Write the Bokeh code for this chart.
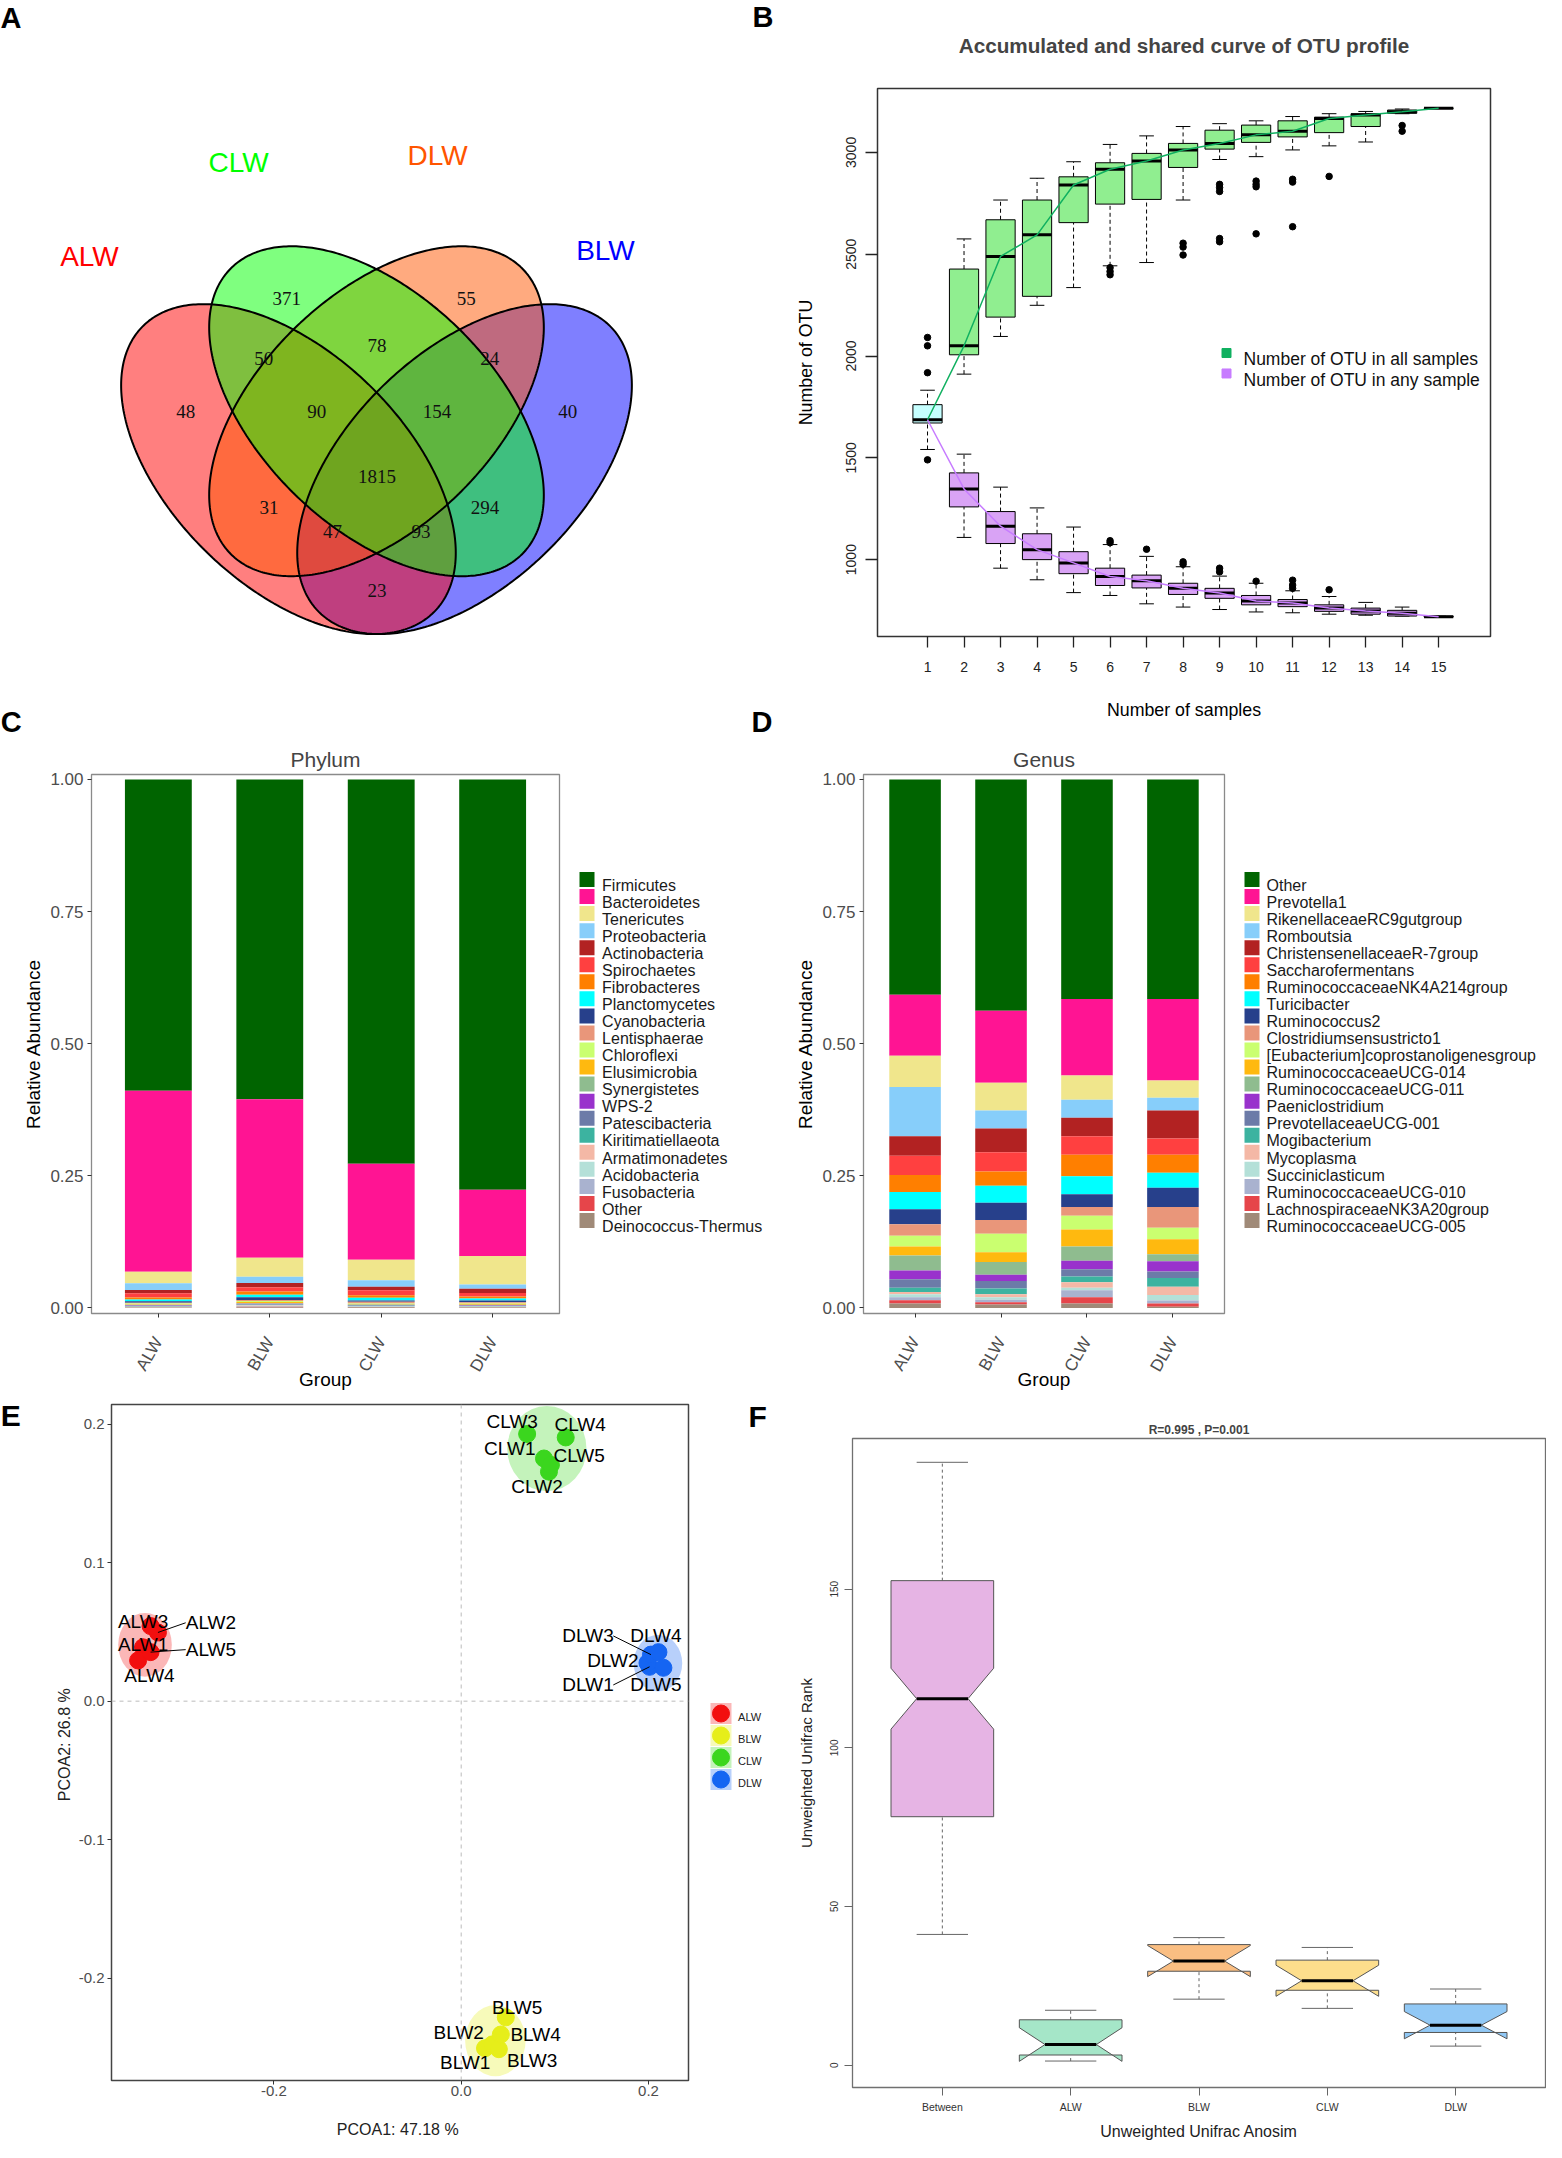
import math
import numpy as np
from bokeh.plotting import figure
from bokeh.layouts import row, column
from bokeh.models import Range1d, FixedTicker, Span, PrintfTickFormatter
from bokeh.core.properties import value
from bokeh.embed import file_html
from bokeh.resources import INLINE

SANS = "Liberation Sans"
SERIF = "Liberation Serif"

# =========================== DATA ===========================
# --- A: Venn diagram of shared OTUs ---
venn_sets = ["ALW", "BLW", "CLW", "DLW"]
venn_regions = ["C", "D", "AC", "CD", "DB", "A", "ACD", "CDB", "B", "ACDB",
                "AD", "CB", "ADB", "ACB", "AB"]
venn_counts = [371, 55, 50, 78, 24, 48, 90, 154, 40, 1815, 31, 294, 47, 93, 23]

# --- B: accumulated / shared OTU curves (boxplot stats) ---
n_samples = list(range(1, 16))
first_stats = [1541, 1671, 1687, 1761, 1832]          # lo, q1, med, q3, hi at 1 sample
first_out = [2091, 2050, 1918, 1490]
all_lo = [1911, 2096, 2249, 2336, 2443, 2459, 2766, 2965, 2979, 3012, 3032, 3051, 3190, 3216]
all_q1 = [2006, 2191, 2293, 2655, 2746, 2769, 2926, 3016, 3049, 3076, 3097, 3127, 3192, 3216]
all_med = [2050, 2489, 2595, 2840, 2917, 2958, 3012, 3044, 3086, 3104, 3166, 3183, 3199, 3217]
all_q3 = [2427, 2669, 2766, 2880, 2949, 2995, 3044, 3109, 3134, 3155, 3173, 3190, 3208, 3218]
all_hi = [2575, 2766, 2873, 2954, 3039, 3081, 3127, 3141, 3155, 3176, 3190, 3201, 3213, 3218]
all_out_x = [6, 6, 6, 8, 8, 8, 9, 9, 9, 9, 9, 10, 10, 10, 10, 11, 11, 11, 12, 14, 14]
all_out_y = [2434, 2415, 2399, 2554, 2535, 2496, 2843, 2827, 2808, 2577, 2561,
             2859, 2843, 2831, 2600, 2868, 2854, 2635, 2882, 3132, 3104]
any_lo = [1109, 958, 901, 838, 824, 783, 767, 755, 743, 739, 732, 727, 723, 718]
any_q1 = [1259, 1079, 1000, 931, 873, 861, 829, 810, 778, 769, 746, 732, 723, 718]
any_med = [1347, 1164, 1049, 984, 917, 896, 859, 836, 797, 787, 762, 748, 737, 720]
any_q3 = [1426, 1236, 1127, 1039, 958, 924, 884, 859, 824, 804, 778, 762, 751, 722]
any_hi = [1518, 1356, 1254, 1160, 1074, 1016, 965, 919, 884, 847, 819, 790, 767, 722]
any_out_x = [6, 6, 7, 8, 8, 9, 9, 10, 11, 11, 11, 12]
any_out_y = [1093, 1083, 1051, 989, 977, 958, 940, 894, 899, 875, 859, 852]
curve_names = ["Number of OTU in all samples", "Number of OTU in any sample"]

# --- C / D: relative abundance ---
groups = ["ALW", "BLW", "CLW", "DLW"]
phylum_names = ["Firmicutes", "Bacteroidetes", "Tenericutes", "Proteobacteria",
                "Actinobacteria", "Spirochaetes", "Fibrobacteres", "Planctomycetes",
                "Cyanobacteria", "Lentisphaerae", "Chloroflexi", "Elusimicrobia",
                "Synergistetes", "WPS-2", "Patescibacteria", "Kiritimatiellaeota",
                "Armatimonadetes", "Acidobacteria", "Fusobacteria", "Other",
                "Deinococcus-Thermus"]
phylum_ALW = [0.589, 0.3425, 0.0217, 0.013, 0.006, 0.008, 0.004, 0.003, 0.003, 0.0015,
              0.0015, 0.001, 0.001, 0.0008, 0.0008, 0.0008, 0.0006, 0.0005, 0.0005, 0.0005, 0.0003]
phylum_BLW = [0.605, 0.300, 0.036, 0.012, 0.008, 0.008, 0.006, 0.005, 0.005, 0.002,
              0.002, 0.002, 0.001, 0.001, 0.001, 0.001, 0.001, 0.001, 0.001, 0.001, 0.001]
phylum_CLW = [0.7274, 0.1816, 0.0386, 0.0124, 0.0065, 0.0095, 0.005, 0.005, 0.0025, 0.003,
              0.001, 0.001, 0.001, 0.0005, 0.001, 0.001, 0.0005, 0.0005, 0.0005, 0.0005, 0.001]
phylum_DLW = [0.7766, 0.125, 0.054, 0.0081, 0.008, 0.0065, 0.004, 0.004, 0.003, 0.002,
              0.001, 0.002, 0.001, 0.0005, 0.0005, 0.001, 0.0005, 0.0005, 0.0005, 0.0005, 0.0008]

genus_names = ["Other", "Prevotella1", "RikenellaceaeRC9gutgroup", "Romboutsia",
               "ChristensenellaceaeR-7group", "Saccharofermentans",
               "RuminococcaceaeNK4A214group", "Turicibacter", "Ruminococcus2",
               "Clostridiumsensustricto1", "[Eubacterium]coprostanoligenesgroup",
               "RuminococcaceaeUCG-014", "RuminococcaceaeUCG-011", "Paeniclostridium",
               "PrevotellaceaeUCG-001", "Mogibacterium", "Mycoplasma", "Succiniclasticum",
               "RuminococcaceaeUCG-010", "LachnospiraceaeNK3A20group", "RuminococcaceaeUCG-005"]
genus_ALW = [0.4075, 0.1152, 0.0593, 0.0933, 0.0367, 0.0364, 0.0324, 0.0325, 0.0284, 0.0219,
             0.0203, 0.0171, 0.0284, 0.0162, 0.0163, 0.0081, 0.0040, 0.0057, 0.0057, 0.0065, 0.0081]
genus_BLW = [0.4375, 0.1364, 0.0527, 0.0341, 0.0447, 0.0365, 0.0268, 0.0324, 0.0325, 0.0260,
             0.0349, 0.0186, 0.0244, 0.0114, 0.0146, 0.0105, 0.0057, 0.0049, 0.0048, 0.0041, 0.0065]
genus_CLW = [0.4156, 0.1445, 0.0462, 0.0341, 0.0349, 0.0349, 0.0406, 0.0341, 0.0244, 0.0162,
             0.0260, 0.0324, 0.0268, 0.0162, 0.0138, 0.0106, 0.0106, 0.0048, 0.0130, 0.0122, 0.0081]
genus_DLW = [0.4156, 0.1542, 0.0325, 0.0243, 0.0528, 0.0308, 0.0341, 0.0284, 0.0366, 0.0389,
             0.0219, 0.0284, 0.0130, 0.0195, 0.0122, 0.0170, 0.0154, 0.0106, 0.0057, 0.0057, 0.0024]

taxa_palette = ["#006400", "#FF1493", "#F0E68C", "#87CEFA", "#B22222", "#FF4040", "#FF7F00",
                "#00FFFF", "#27408B", "#E9967A", "#CAFF70", "#FFB90F", "#8FBC8F", "#9932CC",
                "#6C7BA8", "#3CB3A0", "#F4B8A6", "#B4E0D8", "#A9B2CF", "#E6454A", "#A08A78"]

# --- E: PCoA ---
pcoa_samples = ["ALW1", "ALW2", "ALW3", "ALW4", "ALW5",
                "BLW1", "BLW2", "BLW3", "BLW4", "BLW5",
                "CLW1", "CLW2", "CLW3", "CLW4", "CLW5",
                "DLW1", "DLW2", "DLW3", "DLW4", "DLW5"]
pcoa_pc1 = [-0.3397, -0.3238, -0.3317, -0.3450, -0.3317,
            0.0254, 0.0333, 0.0402, 0.0423, 0.0476,
            0.0884, 0.0937, 0.0704, 0.1116, 0.0958,
            0.2011, 0.1989, 0.2026, 0.2106, 0.2159]
pcoa_pc2 = [0.0389, 0.0496, 0.0542, 0.0294, 0.0354,
            -0.2506, -0.2478, -0.2513, -0.2407, -0.2283,
            0.1752, 0.1657, 0.1929, 0.1904, 0.1706,
            0.0248, 0.0276, 0.0336, 0.0354, 0.0241]
ell_cx = [-0.3376, 0.0365, 0.0915, 0.2101]
ell_cy = [0.0407, -0.2451, 0.1823, 0.0274]
ell_rx = [0.0286, 0.0323, 0.0423, 0.0259]
ell_ry = [0.0230, 0.0257, 0.0308, 0.0204]
group_colors = ["#F20F0F", "#E6EE1A", "#3BD61E", "#1565F2"]

# --- F: ANOSIM ---
anosim_groups = ["Between", "ALW", "BLW", "CLW", "DLW"]
anosim_lo = [41.2, 1.3, 20.8, 17.9, 6.0]
anosim_q1 = [78.3, 3.2, 29.6, 23.6, 10.3]
anosim_med = [115.5, 6.5, 32.8, 26.6, 12.6]
anosim_q3 = [152.7, 14.3, 38.0, 33.1, 19.3]
anosim_hi = [190.0, 17.3, 40.2, 37.1, 24.0]
anosim_notch = [9.6, 5.3, 4.9, 4.9, 4.3]
anosim_colors = ["#E6B4E4", "#A5E6C8", "#FABE82", "#FDDE8C", "#91C8F5"]

# ========================= LAYOUT CONSTANTS =========================
VENN_FILL = {"ALW": "#FF0000", "BLW": "#0000FF", "CLW": "#00FF00", "DLW": "#FF5500"}
VENN_ELL = {"ALW": (0.35, 0.47, -45), "CLW": (0.50, 0.57, -45),
            "DLW": (0.50, 0.57, 45), "BLW": (0.65, 0.47, 45)}
VENN_A, VENN_B = 0.35, 0.20
VENN_LABEL_POS = {"C": (0.347, 0.776), "D": (0.653, 0.776), "AC": (0.308, 0.672),
                  "CD": (0.501, 0.694), "DB": (0.693, 0.672), "A": (0.175, 0.581),
                  "ACD": (0.398, 0.581), "CDB": (0.603, 0.581), "B": (0.826, 0.581),
                  "ACDB": (0.501, 0.468), "AD": (0.317, 0.415), "CB": (0.685, 0.415),
                  "ADB": (0.425, 0.374), "ACB": (0.576, 0.374), "AB": (0.501, 0.272)}
VENN_CAT_POS = {"ALW": (0.011, 0.855), "CLW": (0.265, 1.017),
                "DLW": (0.604, 1.030), "BLW": (0.890, 0.865)}
PCOA_LABEL_OFF = {"ALW1": (0.0, 0.002), "ALW2": (0.0566, 0.007), "ALW3": (-0.008, 0.0035),
                  "ALW4": (0.0122, -0.0106), "ALW5": (0.0645, 0.0018),
                  "BLW1": (-0.0212, -0.0106), "BLW2": (-0.0359, 0.0089), "BLW3": (0.0355, -0.0078),
                  "BLW4": (0.0371, 0.0), "BLW5": (0.0122, 0.0071),
                  "CLW1": (-0.0365, 0.0071), "CLW2": (-0.0127, -0.011), "CLW3": (-0.0159, 0.0089),
                  "CLW4": (0.0154, 0.0096), "CLW5": (0.0301, 0.0071),
                  "DLW1": (-0.0657, -0.0131), "DLW2": (-0.037, 0.0014), "DLW3": (-0.0672, 0.0135),
                  "DLW4": (-0.0027, 0.0117), "DLW5": (-0.008, -0.0124)}
PCOA_LEADERS = ["ALW2", "ALW5", "DLW3", "DLW1"]
LEG_FIRST_Y, LEG_PITCH = 887.0, 17.05
ROW1_TOP, ROW2_TOP, ROW3_TOP, PAGE_BOTTOM = 8, 750, 1400, 2150


def no_align(p):
    try:
        p.frame_align = False
    except Exception:
        pass


def new_fig(w, h, origin, frame, xr, yr):
    ox, oy = origin
    fl, ft, fr, fb = frame
    p = figure(width=w, height=h, x_range=Range1d(*xr), y_range=Range1d(*yr),
               min_border_left=fl - ox, min_border_right=ox + w - fr,
               min_border_top=ft - oy, min_border_bottom=oy + h - fb,
               output_backend="svg", toolbar_location=None, tools="")
    no_align(p)
    for g in p.grid:
        g.visible = False
    p.background_fill_color = "white"
    p.border_fill_color = "white"
    return p


def canvas_fig(x0, y0, w, h):
    """A plain drawing area whose data units are page pixels (y downward)."""
    p = figure(width=w, height=h, x_range=Range1d(x0, x0 + w), y_range=Range1d(y0 + h, y0),
               x_axis_type=None, y_axis_type=None, min_border=0, output_backend="svg",
               toolbar_location=None, tools="")
    no_align(p)
    p.outline_line_color = None
    p.background_fill_color = "white"
    p.border_fill_color = "white"
    return p


def style_axis(ax, ticks, tick_out, lab_size, lab_color, standoff, title, title_size,
               title_standoff, tick_color="#333333", tick_width=1.0, title_color="#000000"):
    ax.ticker = FixedTicker(ticks=ticks)
    ax.major_tick_in = 0
    ax.major_tick_out = tick_out
    ax.major_tick_line_color = tick_color
    ax.major_tick_line_width = tick_width
    ax.minor_tick_line_color = None
    ax.axis_line_color = None
    ax.major_label_text_font = SANS
    ax.major_label_text_font_size = f"{lab_size}px"
    ax.major_label_text_color = lab_color
    ax.major_label_standoff = standoff
    ax.axis_label = title
    ax.axis_label_text_font = SANS
    ax.axis_label_text_font_size = f"{title_size}px"
    ax.axis_label_text_font_style = "normal"
    ax.axis_label_text_color = title_color
    ax.axis_label_standoff = title_standoff


def set_title(p, text, size, style, standoff):
    p.title.text = text
    p.title.align = "center"
    p.title.text_font = SANS
    p.title.text_font_size = f"{size}px"
    p.title.text_font_style = style
    p.title.standoff = standoff


# =========================== ROW 1 : A + B ===========================
ROW1_H = ROW2_TOP - ROW1_TOP
A_W = 787
VX0, VW, VY0, VH = 90.5, 587.0, 748.6, 578.7          # npc -> page pixels


def npx(px):
    return (px - VX0) / VW


def npy(py):
    return (VY0 - py) / VH


pA = figure(width=A_W, height=ROW1_H, x_range=Range1d(npx(8), npx(8 + A_W)),
            y_range=Range1d(npy(ROW2_TOP), npy(ROW1_TOP)), x_axis_type=None,
            y_axis_type=None, min_border=0, output_backend="svg", toolbar_location=None,
            tools="")
no_align(pA)
pA.outline_line_color = None


def ellipse_pts(cx, cy, a, b, ang_deg, n=360):
    t = np.linspace(0, 2 * np.pi, n)
    ph = np.radians(ang_deg)
    xs = cx + a * np.cos(t) * np.cos(ph) - b * np.sin(t) * np.sin(ph)
    ys = cy + a * np.cos(t) * np.sin(ph) + b * np.sin(t) * np.cos(ph)
    return xs.tolist(), ys.tolist()


for s in ["BLW", "ALW", "DLW", "CLW"]:
    cx, cy, ang = VENN_ELL[s]
    ex, ey = ellipse_pts(cx, cy, VENN_A, VENN_B, ang)
    pA.patch(ex, ey, fill_color=VENN_FILL[s], fill_alpha=0.5, line_color=None)
for s in venn_sets:
    cx, cy, ang = VENN_ELL[s]
    ex, ey = ellipse_pts(cx, cy, VENN_A, VENN_B, ang)
    pA.patch(ex, ey, fill_color=None, line_color="black", line_width=2)

vx = [VENN_LABEL_POS[r][0] for r in venn_regions]
vy = [VENN_LABEL_POS[r][1] - 0.338 * 19 / VH for r in venn_regions]
pA.text(x=vx, y=vy, text=[str(c) for c in venn_counts], text_font=value(SERIF),
        text_font_size="19px", text_align="center", text_baseline="alphabetic",
        text_color="#111111")
for s in venn_sets:
    cx, cy = VENN_CAT_POS[s]
    pA.text(x=[cx], y=[cy - 0.358 * 28 / VH], text=[s], text_font=value(SANS),
            text_font_size="28px", text_align="center", text_baseline="alphabetic",
            text_color=VENN_FILL[s])
# panel letters A, B, C, D (left edge, top of the letters in page pixels)
for letter, lx, ly in [("A", 8, 9), ("B", 760, 8.5), ("C", 8.3, 713), ("D", 759, 713)]:
    pA.text(x=[npx(lx)], y=[npy(ly)], text=[letter], text_font=value(SANS),
            text_font_size="29px", text_font_style="bold", text_align="left",
            text_baseline="top", text_color="black")

B_FRAME = (885, 95, 1498, 644)
B_XR, B_YR = (-0.37, 16.42), (622.5, 3313.7)
pB = new_fig(759, ROW1_H, (795, ROW1_TOP), B_FRAME, B_XR, B_YR)
pB.outline_line_color = "#333333"
pB.outline_line_width = 1.5
style_axis(pB.xaxis[0], n_samples, 11, 14, "#222222", 14, "Number of samples", 17.8, 25,
           tick_color="#222222", tick_width=1.3)
style_axis(pB.yaxis[0], [1000, 1500, 2000, 2500, 3000], 12, 14, "#222222", 9,
           "Number of OTU", 17.8, 28, tick_color="#222222", tick_width=1.3)
pB.yaxis.major_label_orientation = "vertical"
set_title(pB, "Accumulated and shared curve of OTU profile", 20.7, "bold", 63)

xa = n_samples[1:]
HW, SW = 0.4, 0.2


def draw_boxes(p, xs, lo, q1, med, q3, hi, fill):
    p.segment(x0=xs, y0=q3, x1=xs, y1=hi, line_color="black", line_width=1, line_dash="4 3")
    p.segment(x0=xs, y0=lo, x1=xs, y1=q1, line_color="black", line_width=1, line_dash="4 3")
    p.segment(x0=[x - SW for x in xs], y0=hi, x1=[x + SW for x in xs], y1=hi,
              line_color="black", line_width=1)
    p.segment(x0=[x - SW for x in xs], y0=lo, x1=[x + SW for x in xs], y1=lo,
              line_color="black", line_width=1)
    p.vbar(x=xs, width=2 * HW, bottom=q1, top=q3, fill_color=fill, line_color="black",
           line_width=1)
    p.segment(x0=[x - HW for x in xs], y0=med, x1=[x + HW for x in xs], y1=med,
              line_color="black", line_width=3)


CURVE_COLORS = ["#10B060", "#C77CFF"]
draw_boxes(pB, xa, all_lo, all_q1, all_med, all_q3, all_hi, "#90EE90")
draw_boxes(pB, xa, any_lo, any_q1, any_med, any_q3, any_hi, "#D9A3F5")
draw_boxes(pB, [1], [first_stats[0]], [first_stats[1]], [first_stats[2]], [first_stats[3]],
           [first_stats[4]], "#C6FFFF")
pB.line(n_samples, [first_stats[2]] + all_med, line_color=CURVE_COLORS[0], line_width=1.5)
pB.line(n_samples, [first_stats[2]] + any_med, line_color=CURVE_COLORS[1], line_width=1.5)
pB.scatter(all_out_x + any_out_x + [1] * len(first_out), all_out_y + any_out_y + first_out,
           size=6.5, color="black")


def bx(px):
    return B_XR[0] + (px - B_FRAME[0]) * (B_XR[1] - B_XR[0]) / (B_FRAME[2] - B_FRAME[0])


def by(py):
    return B_YR[1] - (py - B_FRAME[1]) * (B_YR[1] - B_YR[0]) / (B_FRAME[3] - B_FRAME[1])


# legend of panel B (inside the box)
leg_rows = [360 + 20.5 * i for i in range(len(curve_names))]
pB.scatter(x=[bx(1234)] * len(curve_names), y=[by(r) for r in leg_rows], marker="square",
           size=9, color=CURVE_COLORS)
pB.text(x=[bx(1251)] * len(curve_names), y=[by(r + 6.2) for r in leg_rows], text=curve_names,
        text_font=value(SANS), text_font_size="17.5px", text_align="left",
        text_baseline="alphabetic", text_color="#111111")

# ========================= ROW 2 : C + D =========================
ROW2_H = ROW3_TOP - ROW2_TOP


def bar_panel(w, x0, frame, title, vals_by_group):
    p = new_fig(w, ROW2_H, (x0, ROW2_TOP), frame, (0.4, 4.6), (-0.0106, 1.0093))
    p.outline_line_color = "#8A8A8A"
    p.outline_line_width = 1.3
    xs = [1, 2, 3, 4]
    n = len(vals_by_group[0])
    for i in range(n):
        bottoms = [sum(v[i + 1:]) for v in vals_by_group]
        tops = [b + v[i] for b, v in zip(bottoms, vals_by_group)]
        p.vbar(x=xs, width=0.6, bottom=bottoms, top=tops, fill_color=taxa_palette[i],
               line_color=None)
    style_axis(p.xaxis[0], xs, 4, 17, "#4D4D4D", 21, "Group", 19, -14)
    p.xaxis.major_label_overrides = {i + 1: g for i, g in enumerate(groups)}
    p.xaxis.major_label_orientation = math.pi / 3
    style_axis(p.yaxis[0], [0, 0.25, 0.5, 0.75, 1.0], 4, 17, "#4D4D4D", 4,
               "Relative Abundance", 19, 3)
    p.yaxis.formatter = PrintfTickFormatter(format="%.2f")
    set_title(p, title, 21, "normal", 7)
    return p


def legend_fig(x0, w, key_x, text_x, names):
    p = canvas_fig(x0, ROW2_TOP, w, ROW2_H)
    ys = [LEG_FIRST_Y + LEG_PITCH * i for i in range(len(names))]
    p.rect(x=[key_x] * len(names), y=ys, width=15, height=15,
           fill_color=taxa_palette[:len(names)], line_color=None)
    p.text(x=[text_x] * len(names), y=[yy + 0.358 * 16 for yy in ys], text=names,
           text_font=value(SANS), text_font_size="16px", text_align="left",
           text_baseline="alphabetic", text_color="#1A1A1A")
    return p


C_FRAME = (99, 781, 567, 1329)
pC = bar_panel(577, 8, C_FRAME, "Phylum", [phylum_ALW, phylum_BLW, phylum_CLW, phylum_DLW])
pCleg = legend_fig(585, 205, 594.5, 609.6, phylum_names)
D_FRAME = (871, 781, 1232, 1329)
pD = bar_panel(450, 790, D_FRAME, "Genus", [genus_ALW, genus_BLW, genus_CLW, genus_DLW])
pDleg = legend_fig(1240, 314, 1259.5, 1274, genus_names)

# ========================= ROW 3 : E + F =========================
ROW3_H = PAGE_BOTTOM - ROW3_TOP
pEstrip = canvas_fig(8, ROW3_TOP, 28, ROW3_H)
pEstrip.text(x=[8.3], y=[1423.2], text=["E"], text_font=value(SANS), text_font_size="30px",
             text_font_style="bold", text_align="left", text_baseline="alphabetic",
             text_color="black")

E_FRAME = (119, 1412, 696, 2088)
pE = new_fig(664, ROW3_H, (36, ROW3_TOP), E_FRAME, (-0.3734, 0.2427), (-0.2739, 0.2142))
pE.outline_line_color = "#444444"
pE.outline_line_width = 1.5
style_axis(pE.xaxis[0], [-0.2, 0.0, 0.2], 4, 15, "#4D4D4D", 1, "PCOA1:  47.18 %", 16, 22,
           title_color="#222222")
style_axis(pE.yaxis[0], [-0.2, -0.1, 0.0, 0.1, 0.2], 4, 15, "#4D4D4D", 3, "PCOA2:  26.8 %",
           16, 3, title_color="#222222")
pE.xaxis.formatter = PrintfTickFormatter(format="%.1f")
pE.yaxis.formatter = PrintfTickFormatter(format="%.1f")
pE.add_layout(Span(location=0, dimension="height", line_color="#BBBBBB", line_dash="4 4",
                   line_width=1))
pE.add_layout(Span(location=0, dimension="width", line_color="#BBBBBB", line_dash="4 4",
                   line_width=1))
pE.ellipse(x=ell_cx, y=ell_cy, width=[2 * r for r in ell_rx], height=[2 * r for r in ell_ry],
           fill_color=group_colors, fill_alpha=0.3, line_color=None)
for gi, g in enumerate(groups):
    idx = [k for k, s in enumerate(pcoa_samples) if s.startswith(g)]
    pE.scatter([pcoa_pc1[k] for k in idx], [pcoa_pc2[k] for k in idx], size=17,
               color=group_colors[gi])
lab_x = [pcoa_pc1[k] + PCOA_LABEL_OFF[s][0] for k, s in enumerate(pcoa_samples)]
lab_y = [pcoa_pc2[k] + PCOA_LABEL_OFF[s][1] for k, s in enumerate(pcoa_samples)]
seg_x0, seg_y0, seg_x1, seg_y1 = [], [], [], []
for s in PCOA_LEADERS:
    k = pcoa_samples.index(s)
    dx = PCOA_LABEL_OFF[s][0]
    seg_x0.append(pcoa_pc1[k])
    seg_y0.append(pcoa_pc2[k])
    seg_x1.append(lab_x[k] - math.copysign(0.027, dx))
    seg_y1.append(lab_y[k])
pE.segment(x0=seg_x0, y0=seg_y0, x1=seg_x1, y1=seg_y1, line_color="black", line_width=1)
pE.text(x=lab_x, y=lab_y, text=pcoa_samples, text_font=value(SANS), text_font_size="19px",
        text_align="center", text_baseline="middle", text_color="black")

# legend of panel E + letter F
pEleg = canvas_fig(700, ROW3_TOP, 90, ROW3_H)
ley = [1721 + 22 * i for i in range(len(groups))]
pEleg.rect(x=[728.5] * len(groups), y=ley, width=21, height=21, fill_color=group_colors,
           fill_alpha=0.3, line_color=None)
pEleg.scatter(x=[728.5] * len(groups), y=ley, size=17, color=group_colors)
pEleg.text(x=[745.6] * len(groups), y=[yy + 0.358 * 11 for yy in ley], text=groups,
           text_font=value(SANS), text_font_size="11px", text_align="left",
           text_baseline="alphabetic", text_color="#222222")
pEleg.text(x=[756], y=[1423.5], text=["F"], text_font=value(SANS), text_font_size="30px",
           text_font_style="bold", text_align="left", text_baseline="alphabetic",
           text_color="black")

F_FRAME = (860, 1446, 1553, 2100)
pF = new_fig(764, ROW3_H, (790, ROW3_TOP), F_FRAME, (0.3, 5.7), (-7.04, 197.5))
pF.outline_line_color = "#707070"
pF.outline_line_width = 1.3
fx = list(range(1, len(anosim_groups) + 1))
style_axis(pF.xaxis[0], fx, 8, 10.5, "#333333", 5, "Unweighted Unifrac Anosim", 16, 7,
           tick_color="#666666", title_color="#222222")
pF.xaxis.major_label_overrides = {i + 1: g for i, g in enumerate(anosim_groups)}
style_axis(pF.yaxis[0], [0, 50, 100, 150], 8, 10, "#333333", 6, "Unweighted Unifrac Rank",
           15, 13, tick_color="#666666", title_color="#222222")
pF.yaxis.major_label_orientation = "vertical"
set_title(pF, "R=0.995 , P=0.001", 12, "bold", 3)

bxs, bys = [], []
for i, x in enumerate(fx):
    q1, md, q3, nt = anosim_q1[i], anosim_med[i], anosim_q3[i], anosim_notch[i]
    bxs.append([x - HW, x + HW, x + HW, x + HW / 2, x + HW, x + HW, x - HW, x - HW,
                x - HW / 2, x - HW])
    bys.append([q1, q1, md - nt, md, md + nt, q3, q3, md + nt, md, md - nt])
pF.segment(x0=fx, y0=anosim_q3, x1=fx, y1=anosim_hi, line_color="#666666", line_dash="3 3")
pF.segment(x0=fx, y0=anosim_lo, x1=fx, y1=anosim_q1, line_color="#666666", line_dash="3 3")
pF.segment(x0=[x - SW for x in fx], y0=anosim_hi, x1=[x + SW for x in fx], y1=anosim_hi,
           line_color="#666666")
pF.segment(x0=[x - SW for x in fx], y0=anosim_lo, x1=[x + SW for x in fx], y1=anosim_lo,
           line_color="#666666")
pF.patches(bxs, bys, fill_color=anosim_colors, line_color="#555555", line_width=1)
pF.segment(x0=[x - HW / 2 for x in fx], y0=anosim_med, x1=[x + HW / 2 for x in fx],
           y1=anosim_med, line_color="black", line_width=3)

layout = column(row(pA, pB, spacing=0),
                row(pC, pCleg, pD, pDleg, spacing=0),
                row(pEstrip, pE, pEleg, pF, spacing=0),
                spacing=0)
open("out.html", "w").write(file_html(layout, INLINE, title="OTU figure"))
